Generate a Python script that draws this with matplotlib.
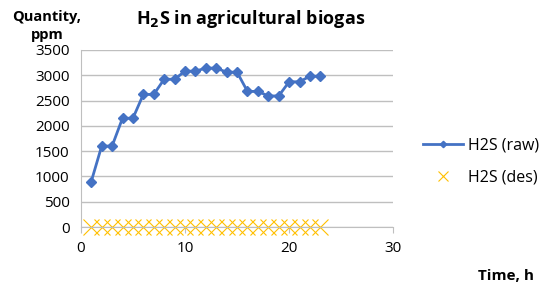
import matplotlib
matplotlib.use('Agg')
import matplotlib.pyplot as plt

plt.rcParams['font.family'] = ['Open Sans', 'DejaVu Sans']

# data
hours = list(range(1, 24))
h2s_raw = [900, 1600, 1600, 2150, 2150, 2620, 2620, 2920, 2920, 3080, 3080,
           3140, 3140, 3060, 3060, 2680, 2680, 2590, 2590, 2870, 2870, 2980, 2980]
h2s_des = [0] * 23
y_ticks = [0, 500, 1000, 1500, 2000, 2500, 3000, 3500]
x_ticks = [0, 10, 20, 30]

fig = plt.figure(figsize=(5.5, 2.9), dpi=100)
ax = fig.add_axes([0.147, 0.217, 0.568, 0.611])

ax.plot(hours, h2s_raw, color='#4472C4', lw=2, marker='D', ms=5, label='H2S (raw)')
ax.plot(hours, h2s_des, ls='none', color='#FFC000', marker='x', ms=12, mew=0.8,
        clip_on=False, label='H2S (des)')

ax.set_xlim(0, 30)
ax.set_ylim(0, 3500)
ax.set_xticks(x_ticks)
ax.set_yticks(y_ticks)
ax.yaxis.grid(True, color='#bfbfbf', lw=1)
ax.set_axisbelow(True)
for s in ['top', 'right']:
    ax.spines[s].set_visible(False)
ax.spines['left'].set_color('#bfbfbf')
ax.spines['bottom'].set_color('#bfbfbf')
ax.tick_params(axis='y', length=0, labelsize=11, pad=8)
ax.tick_params(axis='x', length=4, color='#bfbfbf', labelsize=11, pad=6)

fig.text(0.455, 0.935, 'H$_\\mathbf{2}$S in agricultural biogas', ha='center', va='center',
         fontsize=13, fontweight='bold')
fig.text(0.085, 0.91, 'Quantity,\nppm', ha='center', va='center', fontsize=10.5,
         fontweight='bold', linespacing=1.4)
fig.text(0.92, 0.05, 'Time, h', ha='center', va='center', fontsize=11, fontweight='bold')

ax.legend(loc='center left', bbox_to_anchor=(1.05, 0.37), frameon=False, fontsize=11.5,
          handlelength=2.5, labelspacing=1.0, markerscale=0.65, handletextpad=0.3)

fig.savefig('out.png', dpi=100)
